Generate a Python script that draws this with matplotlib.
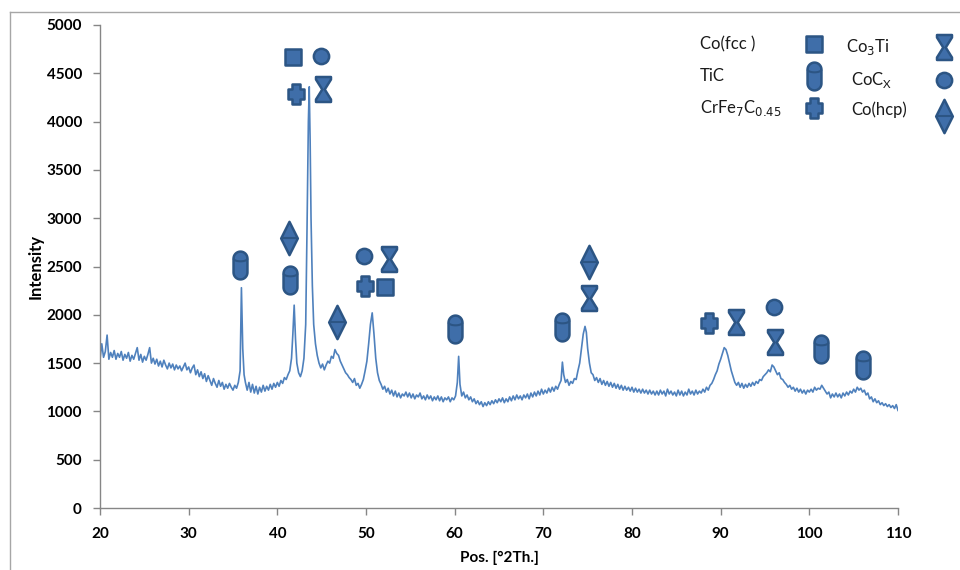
import numpy as np
import matplotlib
matplotlib.use("Agg")
import matplotlib.pyplot as plt
from matplotlib.path import Path
from matplotlib.lines import Line2D

# ---------------- data ----------------
two_theta = [
    20.0, 20.2, 20.4, 20.6, 20.8, 21.0, 21.2, 21.4, 21.6, 21.8,
    22.0, 22.2, 22.4, 22.6, 22.8, 23.0, 23.2, 23.4, 23.6, 23.8,
    24.0, 24.2, 24.4, 24.6, 24.8, 25.0, 25.2, 25.4, 25.6, 25.8,
    26.0, 26.2, 26.4, 26.6, 26.8, 27.0, 27.2, 27.4, 27.6, 27.8,
    28.0, 28.2, 28.4, 28.6, 28.8, 29.0, 29.2, 29.4, 29.6, 29.8,
    30.0, 30.2, 30.4, 30.6, 30.8, 31.0, 31.2, 31.4, 31.6, 31.8,
    32.0, 32.2, 32.4, 32.6, 32.8, 33.0, 33.2, 33.4, 33.6, 33.8,
    34.0, 34.2, 34.4, 34.6, 34.8, 35.0, 35.2, 35.4, 35.6, 35.8,
    35.95, 36.1, 36.25, 36.4, 36.6, 36.8, 37.0, 37.2, 37.4, 37.6,
    37.8, 38.0, 38.2, 38.4, 38.6, 38.8, 39.0, 39.2, 39.4, 39.6,
    39.8, 40.0, 40.2, 40.4, 40.6, 40.8, 41.0, 41.2, 41.4, 41.6,
    41.75, 41.9, 42.05, 42.2, 42.4, 42.6, 42.8, 43.0, 43.2, 43.35,
    43.5, 43.6, 43.7, 43.8, 43.95, 44.1, 44.3, 44.5, 44.7, 44.9,
    45.1, 45.3, 45.5, 45.7, 45.9, 46.1, 46.3, 46.5, 46.7, 46.9,
    47.1, 47.3, 47.5, 47.7, 47.9, 48.1, 48.3, 48.5, 48.7, 48.9,
    49.1, 49.3, 49.5, 49.7, 49.9, 50.1, 50.3, 50.5, 50.7, 50.9,
    51.1, 51.3, 51.5, 51.7, 51.9, 52.1, 52.3, 52.5, 52.7, 52.9,
    53.1, 53.3, 53.5, 53.7, 53.9, 54.1, 54.3, 54.5, 54.7, 54.9,
    55.1, 55.3, 55.5, 55.7, 55.9, 56.1, 56.3, 56.5, 56.7, 56.9,
    57.1, 57.3, 57.5, 57.7, 57.9, 58.1, 58.3, 58.5, 58.7, 58.9,
    59.1, 59.3, 59.5, 59.7, 59.9, 60.1, 60.3, 60.45, 60.6, 60.8,
    61.0, 61.2, 61.4, 61.6, 61.8, 62.0, 62.2, 62.4, 62.6, 62.8,
    63.0, 63.2, 63.4, 63.6, 63.8, 64.0, 64.2, 64.4, 64.6, 64.8,
    65.0, 65.2, 65.4, 65.6, 65.8, 66.0, 66.2, 66.4, 66.6, 66.8,
    67.0, 67.2, 67.4, 67.6, 67.8, 68.0, 68.2, 68.4, 68.6, 68.8,
    69.0, 69.2, 69.4, 69.6, 69.8, 70.0, 70.2, 70.4, 70.6, 70.8,
    71.0, 71.2, 71.4, 71.6, 71.8, 72.0, 72.15, 72.3, 72.5, 72.7,
    72.9, 73.1, 73.3, 73.5, 73.7, 73.9, 74.1, 74.3, 74.5, 74.7,
    74.85, 75.0, 75.2, 75.4, 75.6, 75.8, 76.0, 76.2, 76.4, 76.6,
    76.8, 77.0, 77.2, 77.4, 77.6, 77.8, 78.0, 78.2, 78.4, 78.6,
    78.8, 79.0, 79.2, 79.4, 79.6, 79.8, 80.0, 80.2, 80.4, 80.6,
    80.8, 81.0, 81.2, 81.4, 81.6, 81.8, 82.0, 82.2, 82.4, 82.6,
    82.8, 83.0, 83.2, 83.4, 83.6, 83.8, 84.0, 84.2, 84.4, 84.6,
    84.8, 85.0, 85.2, 85.4, 85.6, 85.8, 86.0, 86.2, 86.4, 86.6,
    86.8, 87.0, 87.2, 87.4, 87.6, 87.8, 88.0, 88.2, 88.4, 88.6,
    88.8, 89.0, 89.2, 89.4, 89.6, 89.8, 90.0, 90.2, 90.4, 90.6,
    90.8, 91.0, 91.2, 91.4, 91.6, 91.8, 92.0, 92.2, 92.4, 92.6,
    92.8, 93.0, 93.2, 93.4, 93.6, 93.8, 94.0, 94.2, 94.4, 94.6,
    94.8, 95.0, 95.2, 95.4, 95.6, 95.8, 96.0, 96.2, 96.4, 96.6,
    96.8, 97.0, 97.2, 97.4, 97.6, 97.8, 98.0, 98.2, 98.4, 98.6,
    98.8, 99.0, 99.2, 99.4, 99.6, 99.8, 100.0, 100.2, 100.4, 100.6,
    100.8, 101.0, 101.2, 101.4, 101.6, 101.8, 102.0, 102.2, 102.4, 102.6,
    102.8, 103.0, 103.2, 103.4, 103.6, 103.8, 104.0, 104.2, 104.4, 104.6,
    104.8, 105.0, 105.2, 105.4, 105.6, 105.8, 106.0, 106.2, 106.4, 106.6,
    106.8, 107.0, 107.2, 107.4, 107.6, 107.8, 108.0, 108.2, 108.4, 108.6,
    108.8, 109.0, 109.2, 109.4, 109.6, 109.8, 110.0,
]
intensity = [
    1540, 1700, 1560, 1620, 1790, 1540, 1610, 1560, 1630, 1540,
    1600, 1560, 1620, 1530, 1590, 1550, 1610, 1520, 1580, 1540,
    1600, 1660, 1530, 1590, 1510, 1570, 1530, 1590, 1660, 1500,
    1550, 1490, 1540, 1470, 1520, 1460, 1530, 1480, 1440, 1500,
    1450, 1490, 1430, 1480, 1440, 1470, 1420, 1460, 1500, 1430,
    1460, 1400, 1450, 1480, 1380, 1430, 1360, 1410, 1340, 1390,
    1310, 1370, 1320, 1270, 1340, 1290, 1250, 1320, 1260, 1300,
    1230, 1280, 1240, 1290, 1250, 1220, 1270, 1240, 1300, 1420,
    2280, 1650, 1380, 1300, 1220, 1300, 1200, 1280, 1190, 1260,
    1180, 1250, 1200, 1270, 1210, 1260, 1220, 1280, 1230, 1290,
    1250, 1300, 1260, 1320, 1290, 1350, 1330, 1380, 1420, 1550,
    1800, 2100, 1750, 1500, 1400, 1360, 1420, 1550, 1900, 2900,
    4000, 4360, 3800, 3000, 2300, 1900, 1700, 1580, 1500, 1450,
    1490, 1430, 1480, 1520, 1500, 1570, 1550, 1640, 1600, 1580,
    1520, 1480, 1440, 1400, 1380, 1350, 1330, 1300, 1340, 1270,
    1290, 1240, 1280, 1330, 1420, 1520, 1700, 1900, 2020, 1800,
    1550, 1400, 1320, 1280, 1230, 1260, 1200, 1240, 1180, 1220,
    1160, 1210, 1150, 1190, 1140, 1180, 1160, 1200, 1150, 1190,
    1140, 1180, 1130, 1170, 1150, 1190, 1130, 1160, 1120, 1170,
    1130, 1160, 1110, 1150, 1120, 1160, 1110, 1150, 1100, 1140,
    1120, 1150, 1100, 1140, 1120, 1160, 1300, 1570, 1280, 1160,
    1200, 1140, 1170, 1120, 1150, 1100, 1130, 1080, 1110, 1070,
    1100, 1050, 1090, 1060, 1100, 1070, 1110, 1080, 1120, 1090,
    1130, 1100, 1140, 1090, 1130, 1100, 1150, 1110, 1160, 1120,
    1170, 1130, 1160, 1120, 1170, 1140, 1180, 1130, 1190, 1150,
    1200, 1160, 1210, 1170, 1230, 1180, 1220, 1190, 1240, 1200,
    1250, 1210, 1260, 1230, 1280, 1320, 1510, 1380, 1300, 1330,
    1270, 1310, 1290, 1340, 1330, 1420, 1500, 1650, 1800, 1880,
    1820, 1650, 1500, 1400, 1380, 1320, 1350, 1300, 1340, 1280,
    1320, 1270, 1310, 1260, 1300, 1250, 1290, 1240, 1280, 1230,
    1270, 1220, 1260, 1220, 1250, 1210, 1250, 1200, 1240, 1200,
    1230, 1190, 1230, 1190, 1220, 1180, 1220, 1180, 1210, 1170,
    1210, 1170, 1220, 1180, 1210, 1160, 1230, 1180, 1210, 1170,
    1200, 1160, 1220, 1170, 1210, 1160, 1200, 1170, 1230, 1180,
    1210, 1170, 1220, 1180, 1210, 1190, 1230, 1200, 1250, 1220,
    1270, 1290, 1330, 1380, 1420, 1490, 1540, 1600, 1660, 1640,
    1580, 1500, 1420, 1360, 1300, 1270, 1300, 1250, 1290, 1240,
    1280, 1250, 1290, 1260, 1300, 1270, 1310, 1290, 1330, 1320,
    1360, 1380, 1400, 1430, 1410, 1480, 1460, 1420, 1380, 1400,
    1340, 1330, 1300, 1280, 1250, 1270, 1230, 1250, 1210, 1240,
    1200, 1230, 1190, 1220, 1180, 1220, 1200, 1230, 1200, 1250,
    1220, 1240, 1230, 1270, 1240, 1210, 1180, 1200, 1140, 1180,
    1150, 1190, 1150, 1180, 1140, 1190, 1160, 1200, 1170, 1210,
    1190, 1230, 1200, 1250, 1220, 1240, 1200, 1220, 1170, 1190,
    1130, 1150, 1100, 1130, 1090, 1110, 1070, 1090, 1060, 1080,
    1050, 1070, 1040, 1060, 1030, 1070, 1010,
]

# phase marker positions (2theta, intensity)
co_fcc_x = [41.8, 52.1]
co_fcc_y = [4670, 2290]
tic_x = [35.8, 41.4, 60.05, 72.1, 101.3, 106.05]
tic_y = [2515, 2360, 1853, 1874, 1646, 1480]
crfe_x = [42.1, 49.9, 88.7]
crfe_y = [4286, 2298, 1915]
co3ti_x = [45.15, 52.6, 75.15, 91.7, 96.1]
co3ti_y = [4337, 2578, 2174, 1925, 1718]
cocx_x = [44.92, 49.77, 96.0]
cocx_y = [4679, 2609, 2081]
co_hcp_x = [41.3, 46.7, 75.15]
co_hcp_y = [2795, 1925, 2547]

x_ticks = [20, 30, 40, 50, 60, 70, 80, 90, 100, 110]
y_ticks = [0, 500, 1000, 1500, 2000, 2500, 3000, 3500, 4000, 4500, 5000]

# ---------------- marker shapes ----------------
def closed(verts):
    verts = list(verts) + [verts[0]]
    codes = [Path.MOVETO] + [Path.LINETO] * (len(verts) - 2) + [Path.CLOSEPOLY]
    return Path(verts, codes)

square_m = closed([(-0.5, -0.5), (0.5, -0.5), (0.5, 0.5), (-0.5, 0.5)])
hour_m = closed([(-0.3, 0.5), (0.3, 0.5), (0.3, 0.4), (0.05, 0.0), (0.3, -0.4),
                 (0.3, -0.5), (-0.3, -0.5), (-0.3, -0.4), (-0.05, 0.0), (-0.3, 0.4)])
a = 0.22
plus_m = closed([(-a, 0.5), (a, 0.5), (a, a + 0.05), (0.42, a + 0.05), (0.42, -a - 0.05),
                 (a, -a - 0.05), (a, -0.5), (-a, -0.5), (-a, -a - 0.05), (-0.42, -a - 0.05),
                 (-0.42, a + 0.05), (-a, a + 0.05)])
diam_m = closed([(0, 0.5), (0.25, 0), (0, -0.5), (-0.25, 0)])
t = np.linspace(0, np.pi, 20)
r = 0.25
top = [(r * np.cos(tt), 0.5 - r + r * np.sin(tt)) for tt in t]
bot = [(-r * np.cos(tt), -0.5 + r - r * np.sin(tt)) for tt in t]
cyl_m = closed(top + bot)
tt2 = np.linspace(np.pi, 2 * np.pi, 15)
arc = [(r * np.cos(v), 0.25 + 0.1 * np.sin(v)) for v in tt2]
cyl_line = Path([(0, 0.5), (0, -0.5)] + arc,
                [Path.MOVETO, Path.MOVETO, Path.MOVETO] + [Path.LINETO] * (len(arc) - 1))
diam_line = Path([(0, 0.5), (0, -0.5), (-0.25, 0), (0.25, 0)],
                 [Path.MOVETO, Path.MOVETO, Path.MOVETO, Path.LINETO])

FACE = "#3F6EA9"
EDGE = "#2C5584"

# ---------------- figure ----------------
W, H = 960, 570
fig = plt.figure(figsize=(9.6, 5.7), dpi=100)
ax = fig.add_axes([100 / W, 1 - 508 / H, 798 / W, 483 / H])

ax.plot(two_theta, intensity, color="#4F81BD", lw=1.2, zorder=2)

ax.set_xlim(20, 110)
ax.set_ylim(0, 5000)
ax.set_xticks(x_ticks)
ax.set_yticks(y_ticks)

for s in ["top", "right"]:
    ax.spines[s].set_visible(False)
for s in ["left", "bottom"]:
    ax.spines[s].set_color("#868686")
    ax.spines[s].set_linewidth(1.0)
ax.tick_params(axis="both", direction="out", length=5, width=1, color="#868686",
               labelsize=11, labelcolor="black")
ax.tick_params(axis="y", pad=8)
ax.tick_params(axis="x", pad=9)
for lab in ax.get_xticklabels() + ax.get_yticklabels():
    lab.set_fontweight("bold")
    lab.set_fontfamily("Lato")

ax.set_ylabel("Intensity", fontsize=12, fontweight="bold", family="Lato", labelpad=2)
ax.set_xlabel("Pos. [°2Th.]", fontsize=11, fontweight="bold", family="Lato", labelpad=7)


def draw(xs, ys, marker, size, extra=None):
    ax.plot(xs, ys, ls="none", marker=marker, ms=size, mfc=FACE, mec=EDGE, mew=1.8,
            zorder=4, clip_on=False)
    if extra is not None:
        ax.plot(xs, ys, ls="none", marker=extra, ms=size, mfc="none", mec=EDGE, mew=1.5,
                zorder=5, clip_on=False)


# legend marker positions (data coordinates, partly outside the axes)
leg_col1_x = [100.5]
leg_col2_x = [115.2]

draw(co_fcc_x + leg_col1_x, co_fcc_y + [4800], square_m, 11)
draw(tic_x + leg_col1_x, tic_y + [4470], cyl_m, 20, cyl_line)
draw(crfe_x + leg_col1_x, crfe_y + [4140], plus_m, 14)
draw(co3ti_x + leg_col2_x, co3ti_y + [4770], hour_m, 18)
draw(cocx_x + leg_col2_x, cocx_y + [4430], "o", 11)
draw(co_hcp_x + leg_col2_x, co_hcp_y + [4060], diam_m, 24, diam_line)

# legend texts
def ftxt(px, py, s):
    fig.text(px / W, 1 - py / H, s, fontsize=12, family="Lato", va="center", ha="left",
             color="#1a1a1a")

ftxt(700, 44, "Co(fcc )")
ftxt(700, 76, "TiC")
ftxt(700, 108, r"CrFe$_7$C$_{0.45}$")
ftxt(846, 47, r"Co$_3$Ti")
ftxt(851, 80, r"CoC$_\mathregular{X}$")
ftxt(851, 110, "Co(hcp)")

# outer chart frame (partly cut off)
fig.add_artist(Line2D([10 / W, 1.0], [1 - 12 / H, 1 - 12 / H], color="#A6A6A6", lw=1,
                      transform=fig.transFigure))
fig.add_artist(Line2D([10 / W, 10 / W], [0, 1 - 12 / H], color="#A6A6A6", lw=1,
                      transform=fig.transFigure))

fig.savefig("out.png", dpi=100)
